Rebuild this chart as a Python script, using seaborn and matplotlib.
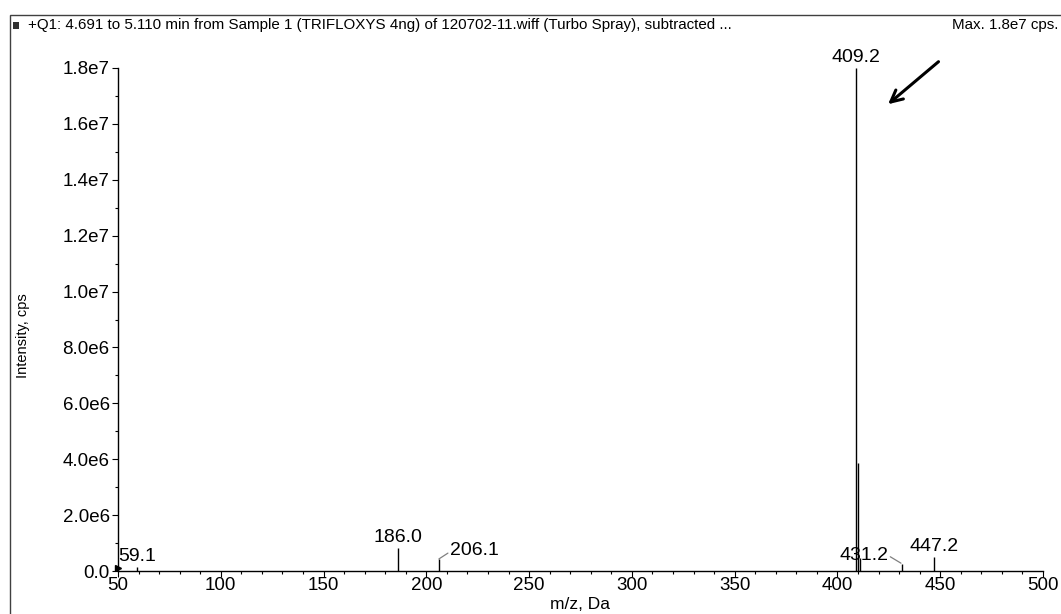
import matplotlib
matplotlib.use("Agg")
import matplotlib.pyplot as plt
from matplotlib.ticker import MultipleLocator
from matplotlib.patches import Rectangle
import seaborn as sns
import pandas as pd

# Centroided peaks of the Q1 scan (m/z, intensity in cps)
mz = [59.1, 186.0, 206.1, 409.2, 410.2, 411.2, 431.2, 447.2]
intensity = [1.4e5, 8.2e5, 4.3e5, 1.8e7, 3.86e6, 4.6e5, 2.5e5, 5.0e5]

x_ticks = [50, 100, 150, 200, 250, 300, 350, 400, 450, 500]
y_ticks = [0, 2e6, 4e6, 6e6, 8e6, 1.0e7, 1.2e7, 1.4e7, 1.6e7, 1.8e7]
y_tick_labels = ["0.0", "2.0e6", "4.0e6", "6.0e6", "8.0e6", "1.0e7",
                 "1.2e7", "1.4e7", "1.6e7", "1.8e7"]

title = ("+Q1: 4.691 to 5.110 min from Sample 1 (TRIFLOXYS 4ng) of "
         "120702-11.wiff (Turbo Spray), subtracted ...")
max_text = "Max. 1.8e7 cps."

peaks = pd.DataFrame({"mz": mz, "intensity": intensity})
pk = dict(zip(mz, intensity))

sns.set_theme(style="ticks")
plt.rcParams["font.family"] = ["Liberation Sans", "DejaVu Sans"]

W, H = 1061, 614
fig = plt.figure(figsize=(W / 100, H / 100), dpi=100)
ax = fig.add_axes([118 / W, 43 / H, 925 / W, 503 / H])

# stick spectrum
ax.vlines(peaks["mz"], 0, peaks["intensity"], color="black", linewidth=1.0)
sns.despine(ax=ax)

ax.set_xlim(50, 500)
ax.set_ylim(0, 1.8e7)
ax.set_xticks(x_ticks)
ax.set_yticks(y_ticks)
ax.set_yticklabels(y_tick_labels)
ax.xaxis.set_minor_locator(MultipleLocator(10))
ax.yaxis.set_minor_locator(MultipleLocator(1e6))
ax.tick_params(axis="both", which="major", direction="out", length=4,
               width=0.8, color="black", labelsize=13.5, pad=2,
               labelcolor="black")
ax.tick_params(axis="x", which="major", pad=0)
ax.tick_params(axis="both", which="minor", direction="out", length=2.5,
               width=0.8, color="black")
for s in ("left", "bottom"):
    ax.spines[s].set_color("black")
    ax.spines[s].set_linewidth(1.0)

ax.set_xlabel("m/z, Da", fontsize=12.5, color="black")
ax.xaxis.set_label_coords(0.5, -26 / 503)
ax.set_ylabel("Intensity, cps", fontsize=10.5, color="black")
ax.yaxis.set_label_coords(-88 / 925, 0.467)

# peak labels
lab = dict(fontsize=14, color="black")
for m in (59.1, 186.0, 409.2, 447.2):
    ax.annotate(f"{m:.1f}", (m, pk[m]), xytext=(0, 2),
                textcoords="offset pixels", ha="center", va="bottom", **lab)

# labels set beside their peaks with a short leader
lead = dict(color="gray", linewidth=0.9)
ax.plot([206.1, 210.5], [pk[206.1], 6.4e5], **lead)
ax.text(211.5, 7.2e5, "206.1", ha="left", va="center", **lab)
ax.plot([430.9, 425.7], [pk[431.2] + 0.3e5, 5.1e5], **lead)
ax.text(424.6, 5.7e5, "431.2", ha="right", va="center", **lab)

# arrow pointing at the base peak
ax.annotate("", xy=(423.6, 1.664e7), xytext=(450.2, 1.829e7),
            arrowprops=dict(arrowstyle="->,head_length=0.7,head_width=0.35",
                            color="black", lw=2.2), annotation_clip=False)

# cursor marker at the origin
ax.plot([50], [1.2e5], marker=">", color="black", markersize=5,
        clip_on=False)

# header line and frame
fig.patches.append(Rectangle((10 / W, -0.01), 1.0, 1 - 15 / H + 0.01,
                             transform=fig.transFigure, fill=False,
                             edgecolor="#404040", linewidth=1.0))
fig.patches.append(Rectangle((13 / W, 1 - 29 / H), 6 / W, 7 / H,
                             transform=fig.transFigure, facecolor="#303030",
                             edgecolor="none"))
fig.text(28 / W, 1 - 25 / H, title, fontsize=10.9, color="black",
         ha="left", va="center")
fig.text(1058 / W, 1 - 25 / H, max_text, fontsize=10.9, color="black",
         ha="right", va="center")

fig.savefig("out.png", dpi=100, facecolor="white")
